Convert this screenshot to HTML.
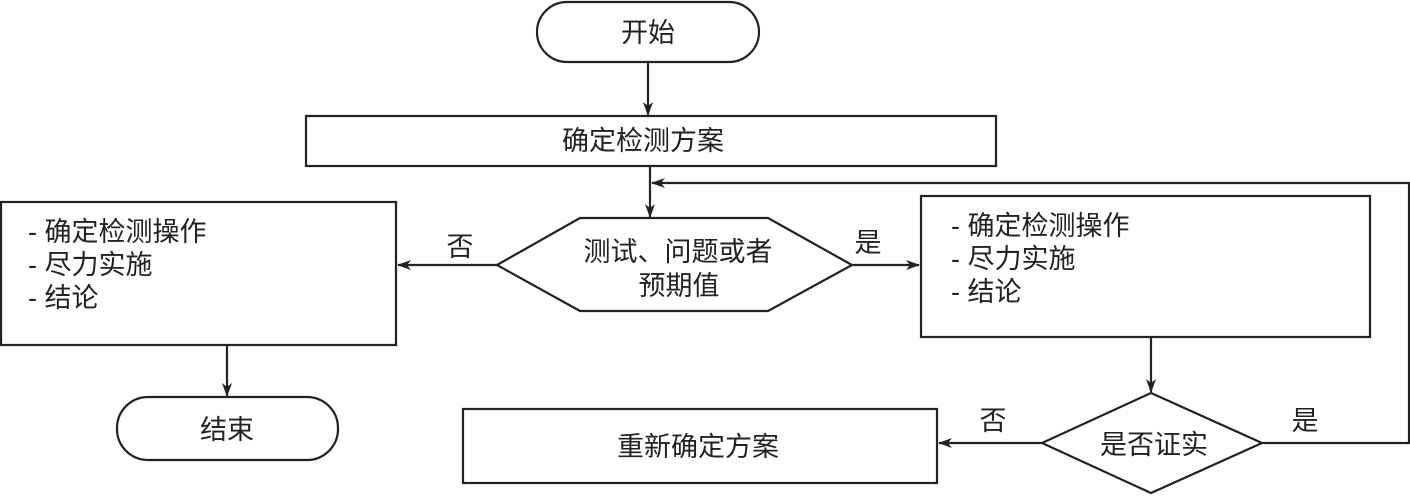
<!DOCTYPE html>
<html><head><meta charset="utf-8"><style>
html,body{margin:0;padding:0;background:#fff;}
svg text{font-family:"Liberation Sans","Noto Sans CJK SC",sans-serif;font-size:27px;fill:#222;}
</style></head><body>
<svg width="1410" height="495" viewBox="0 0 1410 495" xmlns="http://www.w3.org/2000/svg">
<defs><marker id="a" markerWidth="14" markerHeight="10" refX="13" refY="5" orient="auto" markerUnits="userSpaceOnUse"><path d="M0,0 L14,5 L0,10 L4,5 Z" fill="#222"/></marker></defs>
<g fill="none" stroke="#222" stroke-width="2.2">
<rect x="537" y="2" width="222" height="60" rx="30"/>
<rect x="306" y="116" width="690" height="50"/>
<polygon points="497,265 580,218 768,218 852,265 768,311 580,311"/>
<rect x="1" y="202" width="395" height="143"/>
<rect x="117" y="397" width="221" height="63" rx="31"/>
<rect x="921" y="196" width="449" height="141"/>
<polygon points="1042,443 1151,393 1262,443 1151,493"/>
<rect x="463" y="409" width="474" height="74"/>
<line x1="648" y1="62" x2="648" y2="115" marker-end="url(#a)"/>
<line x1="650" y1="166" x2="650" y2="217" marker-end="url(#a)"/>
<line x1="497" y1="265" x2="398" y2="265" marker-end="url(#a)"/>
<line x1="852" y1="265" x2="919" y2="265" marker-end="url(#a)"/>
<line x1="227" y1="345" x2="227" y2="396" marker-end="url(#a)"/>
<line x1="1151" y1="337" x2="1151" y2="392" marker-end="url(#a)"/>
<line x1="1042" y1="443" x2="939" y2="443" marker-end="url(#a)"/>
<polyline points="1262,443 1409,443 1409,183 652,183" marker-end="url(#a)"/>
</g>
<text x="648" y="42" text-anchor="middle">开始</text>
<text x="643" y="150" text-anchor="middle">确定检测方案</text>
<text x="678" y="261" text-anchor="middle">测试、问题或者</text>
<text x="679" y="295" text-anchor="middle">预期值</text>
<text x="460" y="256" text-anchor="middle">否</text>
<text x="868" y="252" text-anchor="middle">是</text>
<text x="28" y="241">- 确定检测操作</text>
<text x="28" y="274">- 尽力实施</text>
<text x="28" y="307">- 结论</text>
<text x="951" y="235">- 确定检测操作</text>
<text x="951" y="268">- 尽力实施</text>
<text x="951" y="301">- 结论</text>
<text x="227" y="439" text-anchor="middle">结束</text>
<text x="698" y="456" text-anchor="middle">重新确定方案</text>
<text x="993" y="430" text-anchor="middle">否</text>
<text x="1305" y="430" text-anchor="middle">是</text>
<text x="1154" y="454" text-anchor="middle">是否证实</text>
</svg>
</body></html>
